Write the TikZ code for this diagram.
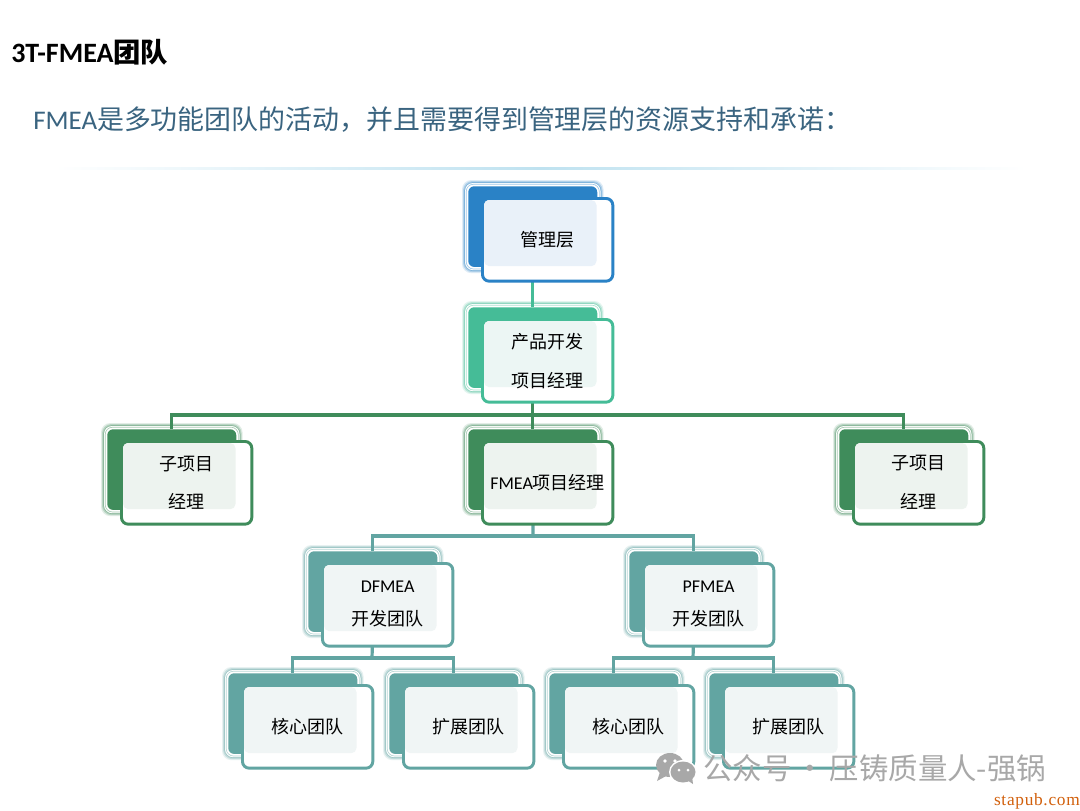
\documentclass[tikz,border=0pt]{standalone}
\usepackage{fontspec}
\setmainfont{Carlito}
\newfontfamily\cjk{Noto Sans CJK SC}
\newfontfamily\cjkb{Noto Sans CJK SC Bold}
\newfontfamily\wmserif[LetterSpace=4]{Liberation Serif}
\usetikzlibrary{calc}
\pgfdeclarelayer{bg}
\pgfdeclarelayer{paper}
\pgfsetlayers{paper,bg,main}
\definecolor{cblue}{HTML}{2A82C6}
\definecolor{cmint}{HTML}{45BC97}
\definecolor{cgreen}{HTML}{3F8C5B}
\definecolor{cteal}{HTML}{62A5A2}
\definecolor{tblue}{HTML}{E9F1F9}
\definecolor{tmint}{HTML}{ECF6F4}
\definecolor{tgreen}{HTML}{EDF3EF}
\definecolor{tteal}{HTML}{F0F5F5}
\definecolor{subj}{HTML}{3A6480}
\definecolor{wmgray}{HTML}{A8A8A8}
\definecolor{orangewm}{HTML}{D2600C}
\definecolor{rulec}{HTML}{BFE2F0}
\tikzset{
  backbox/.style={rounded corners=4.5pt,inner sep=0pt,minimum width=96.75pt,minimum height=60.5pt,anchor=north west},
  frontbox/.style={rounded corners=5pt,inner sep=0pt,minimum width=97.75pt,minimum height=62pt,anchor=north west,line width=2.2pt,fill=white,align=center,text=black},
  conn/.style={line width=2.4pt},
  boxfont/.style={font=\cjk\fontsize{13.5}{17}\selectfont},
}
% #1 name, #2 x, #3 y, #4 colour, #5 tint, #6 label
\newcommand{\teamunit}[6]{%
  \node[backbox,fill=#4] (#1b) at (#2,#3) {};
  \begin{pgfonlayer}{bg}
    \foreach \o/\a in {6/.15,5/.25,4/.35}{
      \fill[#4,opacity=\a,rounded corners=7pt] ([shift={(-\o,-\o)}]#1b.north west) rectangle ([shift={(\o,\o)}]#1b.south east);
    }
    \fill[white,rounded corners=6pt] ([shift={(-3,-3)}]#1b.north west) rectangle ([shift={(3,3)}]#1b.south east);
    \draw[#4!45,line width=.5pt,rounded corners=5.5pt] ([shift={(-1.8,-1.8)}]#1b.north west) rectangle ([shift={(1.8,1.8)}]#1b.south east);
  \end{pgfonlayer}
  \node[frontbox,draw=#4] (#1f) at (#2+13,#3+11) {};
  \fill[#5,rounded corners=4pt] ([shift={(3,3)}]#1f.north west) rectangle ([shift={(-1,-1)}]#1b.south east);
  \draw[white,line width=.9pt,opacity=.8,rounded corners=5pt] ([shift={(3.5,3.5)}]#1f.north -| #1b.east) -- ([shift={(1.5,1.5)}]#1b.south east) -- ([shift={(3,1.5)}]#1f.west |- #1b.south);
  \node[boxfont,align=center,text=black] (#1t) at (#1f.center) {#6};
}
\begin{document}
\begin{tikzpicture}[x=.75pt,y=-.75pt]
\useasboundingbox (0,0) rectangle (1080,810);
\begin{pgfonlayer}{paper}
\fill[white] (0,0) rectangle (1080,810);
\end{pgfonlayer}

\node[anchor=west,inner sep=0pt,font=\fontsize{21}{24}\selectfont\bfseries] (title) at (11,52) {3T-FMEA{\cjkb\fontsize{20.5}{24}\selectfont 团队}};
\node[anchor=west,inner sep=0pt,text=subj,font=\fontsize{20.2}{24}\selectfont] (subtitle) at (33,120) {FMEA{\cjk 是多功能团队的活动，并且需要得到管理层的资源支持和承诺：}};
\coordinate (ruleL) at (55,167);
\coordinate (ruleR) at (1026,169);
\shade[left color=white,right color=white,middle color=rulec] (ruleL) rectangle (ruleR);

\teamunit{mgr}{468}{186}{cblue}{tblue}{管理层}
\teamunit{pm}{468}{307}{cmint}{tmint}{产品开发\\[12pt]项目经理}
\teamunit{lsub}{107}{429}{cgreen}{tgreen}{子项目\\[12pt]经理}
\teamunit{fmea}{468}{429}{cgreen}{tgreen}{{\fontspec{Carlito}FMEA}项目经理}
\teamunit{rsub}{839}{429}{cgreen}{tgreen}{\raisebox{1pt}{子项目}\\[12pt]\raisebox{1pt}{经理}}
\teamunit{df}{308}{551}{cteal}{tteal}{\raisebox{3pt}{\fontspec{Carlito}DFMEA}\\[7pt]\raisebox{2pt}{开发团队}}
\teamunit{pf}{629}{551}{cteal}{tteal}{\raisebox{3pt}{\fontspec{Carlito}PFMEA}\\[7pt]\raisebox{2pt}{开发团队}}
\teamunit{coa}{228}{673}{cteal}{tteal}{核心团队}
\teamunit{exa}{389}{673}{cteal}{tteal}{扩展团队}
\teamunit{cob}{549}{673}{cteal}{tteal}{核心团队}
\teamunit{exb}{709}{673}{cteal}{tteal}{扩展团队}

\coordinate (busA) at (533,415);
\coordinate (busB) at (533,536);
\coordinate (busC) at (372,658);
\coordinate (busD) at (693,658);
\begin{pgfonlayer}{bg}
\draw[conn,cmint] (mgrb.south) -- (pmb.north);
\draw[conn,cgreen] (pmb.south) -- (fmeab.north);
\draw[conn,cgreen] (lsubb.north) |- (busA) -| (rsubb.north);
\draw[conn,cteal] (fmeab.south) -- (busB);
\draw[conn,cteal] (dfb.north) |- (busB) -| (pfb.north);
\draw[conn,cteal] (dfb.south) -- (busC);
\draw[conn,cteal] (coab.north) |- (busC) -| (exab.north);
\draw[conn,cteal] (pfb.south) -- (busD);
\draw[conn,cteal] (cobb.north) |- (busD) -| (exbb.north);
\end{pgfonlayer}

% watermark
\fill[wmgray] (670,765) ellipse [x radius=14,y radius=12];
\fill[wmgray] (660,772) -- (657,781) -- (668,775) -- cycle;
\fill[white] (683,772) ellipse [x radius=14,y radius=12];
\fill[wmgray] (683,772) ellipse [x radius=12.5,y radius=10.5];
\fill[wmgray] (687,780) -- (693,784) -- (692,776) -- cycle;
\fill[white] (665,761) circle (1.8) (675,761) circle (1.8) (679,770) circle (1.5) (688,770) circle (1.5);
\node[anchor=west,inner sep=0pt,text=wmgray,font=\cjk\fontsize{22.1}{26}\selectfont] (wm) at (703,768) {公众号\hspace{3.2pt}·\hspace{3.2pt}压铸质量人-强锅};
\node[anchor=east,inner sep=0pt,text=orangewm,font=\wmserif\fontsize{13}{15}\selectfont] (site) at (1080,801) {stapub.com};
\end{tikzpicture}
\end{document}
